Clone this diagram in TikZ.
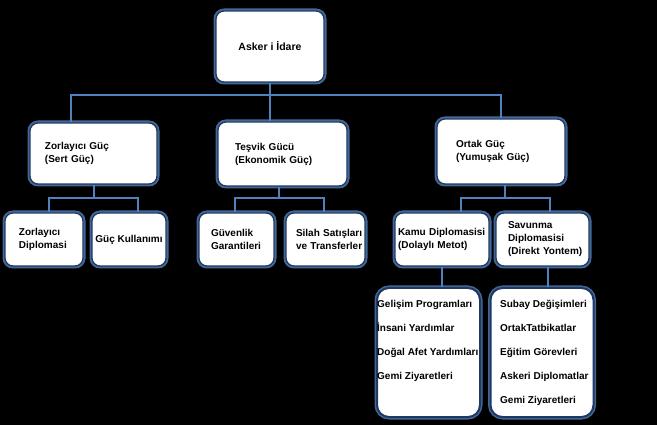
\documentclass[tikz,border=0pt]{standalone}
\usepackage{fontspec}
\setmainfont{Liberation Sans}
\usepackage{tikz}
\hyphenpenalty=10000
\exhyphenpenalty=10000

\definecolor{kutukenar}{RGB}{31,56,100}
\definecolor{kutuisik}{RGB}{91,140,200}
\definecolor{hatrenk}{RGB}{79,129,189}

\tikzset{
	kutu/.style={draw=kutukenar, line width=1.3pt, fill=white, rounded corners=8pt,
		preaction={draw=kutuisik, line width=5pt, opacity=0.75},
		font=\bfseries\fontsize{10}{13}\selectfont, align=left},
	liste/.style={kutu, rounded corners=12pt, line width=2pt,
		minimum width=103pt, minimum height=129pt},
	madde/.style={font=\bfseries\fontsize{10}{12}\selectfont, anchor=base west, inner sep=0pt},
	hat/.style={draw=hatrenk, line width=2pt},
}

\begin{document}
\begin{tikzpicture}[x=1pt,y=-1pt]

\fill[black] (0,0) rectangle (657,425)							;
\useasboundingbox (0,0) rectangle (657,425)						;

%%%%------------Asker i Idare----------------%%
\node [kutu, minimum width=108pt, minimum height=71pt,
	font=\bfseries\fontsize{10.5}{13}\selectfont] (asker) at (270,46.5) {Asker i İdare}	;

%%%%------------Ana basliklar----------------%%
\node [kutu, minimum width=127pt, minimum height=61pt, text width=97pt, inner xsep=15pt]
	(zorlayici) at (93.5,153.5) {Zorlayıcı~Güç\\(Sert~Güç)}		;
\node [kutu, minimum width=129pt, minimum height=64pt, text width=95pt, inner xsep=17pt]
	(tesvik) at (282.5,154) {Teşvik~Gücü\\(Ekonomik~Güç)}		;
\node [kutu, minimum width=128pt, minimum height=65pt, text width=90pt, inner xsep=19pt]
	(ortak) at (501,151.5) {Ortak~Güç\\(Yumuşak~Güç)}			;

%%%%------------Alt basliklar----------------%%
\node [kutu, minimum width=78pt, minimum height=53pt, text width=50pt, inner xsep=14pt]
	(zordip) at (44,239.5) {Zorlayıcı\\Diplomasi}					;
\node [kutu, minimum width=74pt, minimum height=53pt]
	(guckul) at (129,239.5) {Güç Kullanımı}						;
\node [kutu, minimum width=75pt, minimum height=53pt, text width=51pt, inner xsep=12pt]
	(guvenlik) at (236.5,239.5) {Güvenlik\\Garantileri}			;
\node [kutu, minimum width=79pt, minimum height=53pt, text width=59pt, inner xsep=10pt]
	(silah) at (325.5,239.5) {Silah~Satışları\\ve~Transferler}	;
\node [kutu, minimum width=94pt, minimum height=53pt, text width=88pt, inner xsep=3pt]
	(kamu) at (442,239.5) {Kamu~Diplomasisi\\(Dolaylı~Metot)}	;
\node [kutu, minimum width=93pt, minimum height=53pt, text width=69pt, inner xsep=12pt]
	(savunma) at (542.5,239.5) {Savunma\\Diplomasisi\\(Direkt~Yontem)}	;

%%%%------------Listeler----------------%%
\node [liste] (kamuliste) at (428.5,352.5) {}					;
\node [liste] (savliste) at (542,352.5) {}						;

\foreach \madde [count=\i] in {Gelişim Programları, İnsani Yardımlar, Doğal Afet Yardımları, Gemi Ziyaretleri}
	\node [madde] (kamu-\i) at (377,283.5+24*\i) {\madde}		;
\foreach \madde [count=\i] in {Subay Değişimleri, OrtakTatbikatlar, Eğitim Görevleri, Askeri Diplomatlar, Gemi Ziyaretleri}
	\node [madde] (sav-\i) at (500,283.5+24*\i) {\madde}		;

%%%-------------Baglantilar-------------%%%
\coordinate (asker-hub) at ([yshift=-12pt]asker.south)			;
\draw [hat] (asker.south) -- (asker.south |- tesvik.north)		;
\draw [hat] ([xshift=42pt]zorlayici.north west) |- (asker-hub) -| (ortak.north)	;

\coordinate (zor-hub) at ([yshift=-13pt]zorlayici.south)		;
\draw [hat] (zorlayici.south) -- (zor-hub)						;
\draw [hat] ([xshift=5pt]zordip.north) |- (zor-hub) -| ([xshift=9pt]guckul.north)	;

\coordinate (tes-hub) at ([xshift=-3.5pt,yshift=-11pt]tesvik.south)	;
\draw [hat] ([xshift=-3.5pt]tesvik.south) -- (tes-hub)			;
\draw [hat] ([xshift=-1.5pt]guvenlik.north) |- (tes-hub) -| ([xshift=-1.5pt]silah.north)	;

\coordinate (ort-hub) at ([xshift=4pt,yshift=-13pt]ortak.south)	;
\draw [hat] ([xshift=4pt]ortak.south) -- (ort-hub)				;
\draw [hat] ([xshift=19pt]kamu.north) |- (ort-hub) -| ([xshift=7.5pt]savunma.north)	;

\draw [hat] (kamu.south) -- (kamu.south |- kamuliste.north)		;
\draw [hat] ([xshift=5.5pt]savunma.south) -- ([xshift=5.5pt]savunma.south |- savliste.north)	;

%%%---------- Hjelpe linjer ------------%%%
%    \draw [help lines, step=10] (0,0) grid (657,425);

\end{tikzpicture}
\end{document}
